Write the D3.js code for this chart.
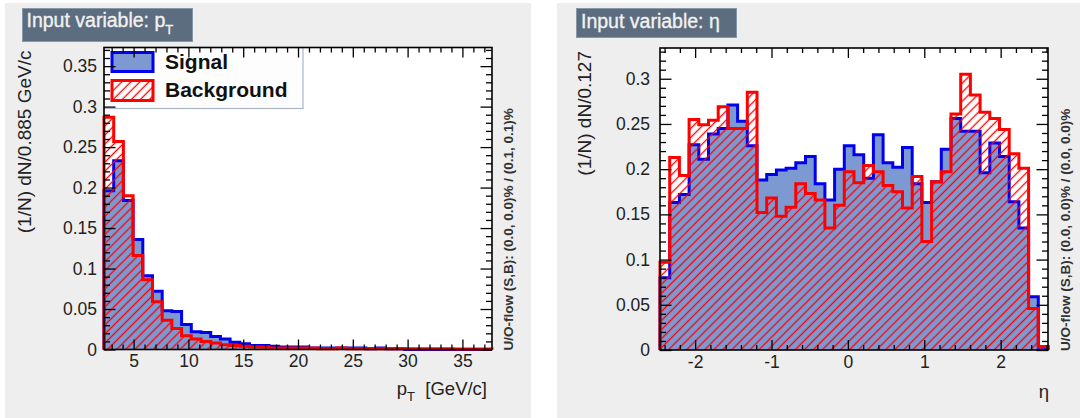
<!DOCTYPE html>
<html>
<head>
<meta charset="utf-8">
<script src="https://cdn.jsdelivr.net/npm/d3@7"></script>
<style>
  body { margin: 0; background: #fff; }
  svg { display: block; }
  text { font-family: "Liberation Sans", Arial, Helvetica, sans-serif; }
</style>
</head>
<body>
<svg id="chart" width="1080" height="418"></svg>
<script>
// ---- p_T histogram: 40 bins of 0.885 GeV/c starting at 2.3 GeV/c ----
const ptMin = 2.3;
const ptBinWidth = 0.885;
const ptSignal = [
  0.196, 0.233, 0.184, 0.136, 0.091, 0.072, 0.048, 0.047, 0.031, 0.022,
  0.021, 0.016, 0.013, 0.009, 0.007, 0.005, 0.005, 0.004, 0.003, 0.003,
  0.003, 0.002, 0.002, 0.002, 0.002, 0.002, 0.002, 0.001, 0.002, 0.001,
  0.001, 0, 0, 0, 0, 0, 0, 0, 0, 0
];
const ptBackground = [
  0.287, 0.257, 0.190, 0.116, 0.086, 0.059, 0.036, 0.026, 0.017, 0.013,
  0.010, 0.008, 0.006, 0.005, 0.004, 0.003, 0.003, 0.002, 0.002, 0.002,
  0.002, 0.002, 0.001, 0.001, 0.002, 0.001, 0.001, 0.001, 0.001, 0.001,
  0.001, 0.001, 0.001, 0.001, 0.001, 0.001, 0.0005, 0.0005, 0.0005, 0.0005
];
const ptXTicks = [5, 10, 15, 20, 25, 30, 35];
const ptYTicks = [0, 0.05, 0.1, 0.15, 0.2, 0.25, 0.3, 0.35];

// ---- eta histogram: 40 bins of 0.127 starting at -2.46 ----
const etaMin = -2.46;
const etaBinWidth = 0.127;
const etaSignal = [
  0.080, 0.163, 0.172, 0.227, 0.211, 0.239, 0.245, 0.271, 0.253, 0.226,
  0.188, 0.194, 0.199, 0.201, 0.207, 0.214, 0.184, 0.166, 0.200, 0.226,
  0.216, 0.190, 0.238, 0.207, 0.202, 0.224, 0.184, 0.163, 0.186, 0.222,
  0.256, 0.242, 0.242, 0.196, 0.229, 0.214, 0.164, 0.135, 0.059, 0.003
];
const etaBackground = [
  0.097, 0.213, 0.193, 0.255, 0.249, 0.254, 0.269, 0.245, 0.245, 0.285,
  0.152, 0.168, 0.148, 0.158, 0.184, 0.173, 0.166, 0.135, 0.160, 0.197,
  0.185, 0.204, 0.197, 0.182, 0.175, 0.157, 0.192, 0.120, 0.186, 0.197,
  0.261, 0.305, 0.282, 0.263, 0.256, 0.244, 0.217, 0.201, 0.046, 0.004
];
const etaXTicks = [-2, -1, 0, 1, 2];
const etaYTicks = [0, 0.05, 0.1, 0.15, 0.2, 0.25, 0.3];

const legendLabels = ["Signal", "Background"];

const SIG_FILL = "#7d99d1", SIG_LINE = "#0000ee", BKG_LINE = "#ff0000";
const PANEL_BG = "#eeeeee";

const svg = d3.select("#chart");
svg.append("rect").attr("width", 1080).attr("height", 418).attr("fill", "#fff");

// diagonal hatch used for the background histogram
const defs = svg.append("defs");
const hatch = defs.append("pattern")
  .attr("id", "hatch")
  .attr("patternUnits", "userSpaceOnUse")
  .attr("width", 6.4).attr("height", 6.4)
  .attr("patternTransform", "rotate(45)");
hatch.append("line")
  .attr("x1", 3.2).attr("y1", 0).attr("x2", 3.2).attr("y2", 6.4)
  .attr("stroke", BKG_LINE).attr("stroke-width", 1.3);

function fmtY(d) { return d === 0 ? "0" : String(+d.toFixed(2)); }

function range(a, b, step) {
  const out = [];
  const n = Math.round((b - a) / step);
  for (let i = 0; i <= n; i++) out.push(+(a + i * step).toFixed(6));
  return out;
}

function drawPanel(p) {
  const g = svg.append("g");
  g.append("rect")
    .attr("x", p.bg[0]).attr("y", p.bg[1]).attr("width", p.bg[2]).attr("height", p.bg[3])
    .attr("fill", PANEL_BG);

  // title tag
  g.append("rect")
    .attr("x", p.title.box[0]).attr("y", p.title.box[1])
    .attr("width", p.title.box[2]).attr("height", p.title.box[3])
    .attr("fill", "#5d6d80").attr("stroke", "#8797a8").attr("stroke-width", 1);
  const tt = g.append("text")
    .attr("x", p.title.x).attr("y", p.title.y)
    .attr("font-size", 19.5).attr("fill", "#f2f2f2")
    .attr("stroke", "#f2f2f2").attr("stroke-width", 0.35);
  tt.append("tspan").text(p.title.text);
  if (p.title.sub) {
    tt.append("tspan").attr("font-size", 13).attr("dy", 7).text(p.title.sub);
  }

  const n = p.signal.length;
  const xMax = p.xMin + n * p.binWidth;
  const x = d3.scaleLinear().domain([p.xMin, xMax]).range([p.fx0, p.fx1]);
  const y = d3.scaleLinear().domain([0, p.yMax]).range([p.fy1, p.fy0]);

  g.append("rect")
    .attr("x", p.fx0).attr("y", p.fy0)
    .attr("width", p.fx1 - p.fx0).attr("height", p.fy1 - p.fy0)
    .attr("fill", "#fff");

  const steps = vals => {
    const pts = [[p.xMin, 0]];
    vals.forEach((v, i) => {
      const a = p.xMin + i * p.binWidth;
      pts.push([a, v], [a + p.binWidth, v]);
    });
    pts.push([xMax, 0]);
    return pts;
  };
  const line = d3.line().x(d => x(d[0])).y(d => y(d[1]));

  g.append("path").attr("d", line(steps(p.signal)))
    .attr("fill", SIG_FILL).attr("stroke", "none");
  g.append("path").attr("d", line(steps(p.signal)))
    .attr("fill", "none").attr("stroke", SIG_LINE).attr("stroke-width", 3);
  g.append("path").attr("d", line(steps(p.background)))
    .attr("fill", "url(#hatch)").attr("stroke", "none");
  g.append("path").attr("d", line(steps(p.background)))
    .attr("fill", "none").attr("stroke", BKG_LINE).attr("stroke-width", 3);

  // legend
  if (p.legend) {
    const L = p.legend;
    g.append("rect").attr("x", L.x).attr("y", L.y).attr("width", L.w).attr("height", L.h)
      .attr("fill", "#fdfdfd").attr("stroke", "#aab6c8").attr("stroke-width", 1.2);
    g.append("rect").attr("x", L.x + 8).attr("y", L.y + 5).attr("width", 41).attr("height", 19)
      .attr("fill", SIG_FILL).attr("stroke", SIG_LINE).attr("stroke-width", 3);
    g.append("rect").attr("x", L.x + 8).attr("y", L.y + 33).attr("width", 41).attr("height", 20)
      .attr("fill", "#fff").attr("stroke", "none");
    g.append("rect").attr("x", L.x + 8).attr("y", L.y + 33).attr("width", 41).attr("height", 20)
      .attr("fill", "url(#hatch)").attr("stroke", BKG_LINE).attr("stroke-width", 3);
    legendLabels.forEach((lab, i) => {
      g.append("text").attr("x", L.x + 61).attr("y", L.y + 21.5 + i * 28)
        .attr("font-size", 21).attr("font-weight", "bold").attr("fill", "#111").text(lab);
    });
  }

  // frame
  g.append("rect")
    .attr("x", p.fx0).attr("y", p.fy0)
    .attr("width", p.fx1 - p.fx0).attr("height", p.fy1 - p.fy0)
    .attr("fill", "none").attr("stroke", "#000").attr("stroke-width", 1.6);

  const tickStyle = sel => {
    sel.select(".domain").remove();
    sel.selectAll(".tick line").attr("stroke", "#000").attr("stroke-width", 1.3);
  };
  const labelStyle = sel => {
    sel.attr("font-family", null).attr("font-size", null);
    sel.selectAll("text").attr("font-size", 17.5).attr("fill", "#222");
  };

  const xMinor = range(Math.ceil(p.xMin / p.xMinorStep) * p.xMinorStep, xMax, p.xMinorStep)
    .filter(v => v >= p.xMin && v <= xMax && !p.xTicks.some(t => Math.abs(t - v) < 1e-6));
  const yMinor = range(0, p.yMax, p.yMinorStep)
    .filter(v => !p.yTicks.some(t => Math.abs(t - v) < 1e-6));

  // bottom & top
  g.append("g").attr("transform", `translate(0,${p.fy1})`)
    .call(d3.axisBottom(x).tickValues(xMinor).tickSize(-5).tickFormat("")).call(tickStyle);
  g.append("g").attr("transform", `translate(0,${p.fy1})`)
    .call(d3.axisBottom(x).tickValues(p.xTicks).tickSize(-10).tickPadding(p.xPad).tickFormat(d => String(d)))
    .call(tickStyle).call(labelStyle);
  g.append("g").attr("transform", `translate(0,${p.fy0})`)
    .call(d3.axisTop(x).tickValues(xMinor).tickSize(-5).tickFormat("")).call(tickStyle);
  g.append("g").attr("transform", `translate(0,${p.fy0})`)
    .call(d3.axisTop(x).tickValues(p.xTicks).tickSize(-10).tickFormat("")).call(tickStyle);

  // left & right
  g.append("g").attr("transform", `translate(${p.fx0},0)`)
    .call(d3.axisLeft(y).tickValues(yMinor).tickSize(-6).tickFormat("")).call(tickStyle);
  g.append("g").attr("transform", `translate(${p.fx0},0)`)
    .call(d3.axisLeft(y).tickValues(p.yTicks).tickSize(-11.5).tickPadding(p.yPad).tickFormat(fmtY))
    .call(tickStyle).call(labelStyle);
  g.append("g").attr("transform", `translate(${p.fx1},0)`)
    .call(d3.axisRight(y).tickValues(yMinor).tickSize(-6).tickFormat("")).call(tickStyle);
  g.append("g").attr("transform", `translate(${p.fx1},0)`)
    .call(d3.axisRight(y).tickValues(p.yTicks).tickSize(-11.5).tickFormat("")).call(tickStyle);

  // axis titles
  g.append("text")
    .attr("transform", `translate(${p.yTitle.x},${p.fy0 + 3}) rotate(-90)`)
    .attr("text-anchor", "end").attr("font-size", 19).attr("fill", "#222")
    .text(p.yTitle.text);

  const xt = g.append("text")
    .attr("x", p.xTitle.x).attr("y", p.xTitle.y)
    .attr("text-anchor", "end").attr("font-size", 18.5).attr("fill", "#222")
    .style("white-space", "pre");
  p.xTitle.parts.forEach(part => {
    const t = xt.append("tspan").text(part.t);
    if (part.sub) t.attr("font-size", 13).attr("dy", 6);
    if (part.up) t.attr("dy", -6);
  });

  // under/overflow note
  g.append("text")
    .attr("transform", `translate(${p.flow.x},${p.fy1 + 1}) rotate(-90)`)
    .attr("font-size", 13.5).attr("font-weight", "bold").attr("fill", "#333")
    .text(p.flow.text);
}

drawPanel({
  bg: [5, 3, 526, 415],
  title: { box: [22.5, 8.5, 170, 33], x: 26.5, y: 27, text: "Input variable: p", sub: "T" },
  xMin: ptMin, binWidth: ptBinWidth, signal: ptSignal, background: ptBackground,
  fx0: 104, fx1: 492, fy0: 47.5, fy1: 349.5, yMax: 0.373,
  xTicks: ptXTicks, xMinorStep: 1, yTicks: ptYTicks, yMinorStep: 0.01,
  xPad: 5, yPad: 7,
  legend: { x: 104, y: 47.5, w: 199, h: 61 },
  yTitle: { x: 31, text: "(1/N) dN/0.885 GeV/c" },
  xTitle: { x: 487, y: 395, parts: [{ t: "p" }, { t: "T", sub: true }, { t: "\u00a0\u00a0[GeV/c]", up: true }] },
  flow: { x: 513, text: "U/O-flow (S,B): (0.0, 0.0)% / (0.1, 0.1)%" }
});

drawPanel({
  bg: [557, 3, 523, 415],
  title: { box: [576.5, 8.5, 160, 29], x: 581, y: 28, text: "Input variable: \u03b7" },
  xMin: etaMin, binWidth: etaBinWidth, signal: etaSignal, background: etaBackground,
  fx0: 660, fx1: 1048, fy0: 48, fy1: 350, yMax: 0.334,
  xTicks: etaXTicks, xMinorStep: 0.2, yTicks: etaYTicks, yMinorStep: 0.01,
  xPad: 6, yPad: 10,
  yTitle: { x: 591, text: "(1/N) dN/0.127" },
  xTitle: { x: 1049, y: 398, parts: [{ t: "\u03b7" }] },
  flow: { x: 1070, text: "U/O-flow (S,B): (0.0, 0.0)% / (0.0, 0.0)%" }
});
</script>
</body>
</html>
